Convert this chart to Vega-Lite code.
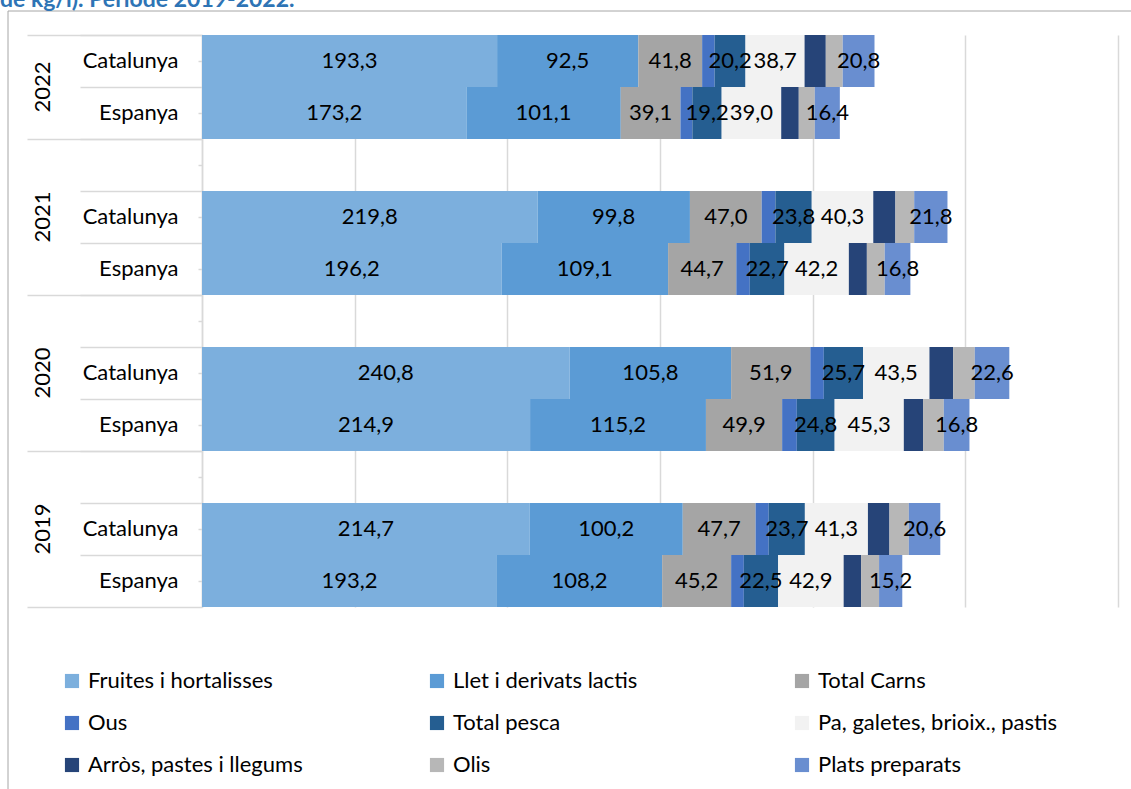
{
  "$schema": "https://vega.github.io/schema/vega-lite/v6.json",
  "width": 916,
  "height": 572,
  "autosize": {"type": "none"},
  "padding": {"left": 202, "top": 35, "right": 13, "bottom": 182},
  "background": "white",
  "config": {
    "font": "Lato",
    "locale": {"number": {"decimal": ",", "thousands": ".", "grouping": [3], "currency": ["", " €"]}},
    "view": {"stroke": null},
    "axis": {"labelFont": "Lato", "labelFontSize": 22, "labelColor": "#000000", "labelOverlap": false}
  },
  "title": {
    "text": "de kg/l). Període 2019-2022.",
    "anchor": "start",
    "frame": "group",
    "dx": -202,
    "offset": 4,
    "baseline": "alphabetic",
    "font": "Lato",
    "fontSize": 23,
    "fontWeight": "bold",
    "color": "#2E74B5"
  },
  "datasets": {
    "d": [
      {"r": "2022|Catalunya", "c": "Fruites i hortalisses", "v": 193.3},
      {"r": "2022|Catalunya", "c": "Llet i derivats lactis", "v": 92.5},
      {"r": "2022|Catalunya", "c": "Total Carns", "v": 41.8},
      {"r": "2022|Catalunya", "c": "Ous", "v": 8.2},
      {"r": "2022|Catalunya", "c": "Total pesca", "v": 20.2},
      {"r": "2022|Catalunya", "c": "Pa, galetes, brioix., pastis", "v": 38.7},
      {"r": "2022|Catalunya", "c": "Arròs, pastes i llegums", "v": 13.9},
      {"r": "2022|Catalunya", "c": "Olis", "v": 11.1},
      {"r": "2022|Catalunya", "c": "Plats preparats", "v": 20.8},
      {"r": "2022|Espanya", "c": "Fruites i hortalisses", "v": 173.2},
      {"r": "2022|Espanya", "c": "Llet i derivats lactis", "v": 101.1},
      {"r": "2022|Espanya", "c": "Total Carns", "v": 39.1},
      {"r": "2022|Espanya", "c": "Ous", "v": 7.8},
      {"r": "2022|Espanya", "c": "Total pesca", "v": 19.2},
      {"r": "2022|Espanya", "c": "Pa, galetes, brioix., pastis", "v": 39.0},
      {"r": "2022|Espanya", "c": "Arròs, pastes i llegums", "v": 11.5},
      {"r": "2022|Espanya", "c": "Olis", "v": 10.5},
      {"r": "2022|Espanya", "c": "Plats preparats", "v": 16.4},
      {"r": "2021|Catalunya", "c": "Fruites i hortalisses", "v": 219.8},
      {"r": "2021|Catalunya", "c": "Llet i derivats lactis", "v": 99.8},
      {"r": "2021|Catalunya", "c": "Total Carns", "v": 47.0},
      {"r": "2021|Catalunya", "c": "Ous", "v": 9.0},
      {"r": "2021|Catalunya", "c": "Total pesca", "v": 23.8},
      {"r": "2021|Catalunya", "c": "Pa, galetes, brioix., pastis", "v": 40.3},
      {"r": "2021|Catalunya", "c": "Arròs, pastes i llegums", "v": 14.5},
      {"r": "2021|Catalunya", "c": "Olis", "v": 12.3},
      {"r": "2021|Catalunya", "c": "Plats preparats", "v": 21.8},
      {"r": "2021|Espanya", "c": "Fruites i hortalisses", "v": 196.2},
      {"r": "2021|Espanya", "c": "Llet i derivats lactis", "v": 109.1},
      {"r": "2021|Espanya", "c": "Total Carns", "v": 44.7},
      {"r": "2021|Espanya", "c": "Ous", "v": 8.8},
      {"r": "2021|Espanya", "c": "Total pesca", "v": 22.7},
      {"r": "2021|Espanya", "c": "Pa, galetes, brioix., pastis", "v": 42.2},
      {"r": "2021|Espanya", "c": "Arròs, pastes i llegums", "v": 11.8},
      {"r": "2021|Espanya", "c": "Olis", "v": 11.7},
      {"r": "2021|Espanya", "c": "Plats preparats", "v": 16.8},
      {"r": "2020|Catalunya", "c": "Fruites i hortalisses", "v": 240.8},
      {"r": "2020|Catalunya", "c": "Llet i derivats lactis", "v": 105.8},
      {"r": "2020|Catalunya", "c": "Total Carns", "v": 51.9},
      {"r": "2020|Catalunya", "c": "Ous", "v": 8.8},
      {"r": "2020|Catalunya", "c": "Total pesca", "v": 25.7},
      {"r": "2020|Catalunya", "c": "Pa, galetes, brioix., pastis", "v": 43.5},
      {"r": "2020|Catalunya", "c": "Arròs, pastes i llegums", "v": 15.5},
      {"r": "2020|Catalunya", "c": "Olis", "v": 14.2},
      {"r": "2020|Catalunya", "c": "Plats preparats", "v": 22.6},
      {"r": "2020|Espanya", "c": "Fruites i hortalisses", "v": 214.9},
      {"r": "2020|Espanya", "c": "Llet i derivats lactis", "v": 115.2},
      {"r": "2020|Espanya", "c": "Total Carns", "v": 49.9},
      {"r": "2020|Espanya", "c": "Ous", "v": 9.6},
      {"r": "2020|Espanya", "c": "Total pesca", "v": 24.8},
      {"r": "2020|Espanya", "c": "Pa, galetes, brioix., pastis", "v": 45.3},
      {"r": "2020|Espanya", "c": "Arròs, pastes i llegums", "v": 12.6},
      {"r": "2020|Espanya", "c": "Olis", "v": 13.6},
      {"r": "2020|Espanya", "c": "Plats preparats", "v": 16.8},
      {"r": "2019|Catalunya", "c": "Fruites i hortalisses", "v": 214.7},
      {"r": "2019|Catalunya", "c": "Llet i derivats lactis", "v": 100.2},
      {"r": "2019|Catalunya", "c": "Total Carns", "v": 47.7},
      {"r": "2019|Catalunya", "c": "Ous", "v": 8.6},
      {"r": "2019|Catalunya", "c": "Total pesca", "v": 23.7},
      {"r": "2019|Catalunya", "c": "Pa, galetes, brioix., pastis", "v": 41.3},
      {"r": "2019|Catalunya", "c": "Arròs, pastes i llegums", "v": 14.1},
      {"r": "2019|Catalunya", "c": "Olis", "v": 12.7},
      {"r": "2019|Catalunya", "c": "Plats preparats", "v": 20.6},
      {"r": "2019|Espanya", "c": "Fruites i hortalisses", "v": 193.2},
      {"r": "2019|Espanya", "c": "Llet i derivats lactis", "v": 108.2},
      {"r": "2019|Espanya", "c": "Total Carns", "v": 45.2},
      {"r": "2019|Espanya", "c": "Ous", "v": 8.3},
      {"r": "2019|Espanya", "c": "Total pesca", "v": 22.5},
      {"r": "2019|Espanya", "c": "Pa, galetes, brioix., pastis", "v": 42.9},
      {"r": "2019|Espanya", "c": "Arròs, pastes i llegums", "v": 11.4},
      {"r": "2019|Espanya", "c": "Olis", "v": 11.8},
      {"r": "2019|Espanya", "c": "Plats preparats", "v": 15.2}
    ]
  },
  "data": {"name": "d"},
  "transform": [
    {"calculate": "indexof(['Fruites i hortalisses','Llet i derivats lactis','Total Carns','Ous','Total pesca','Pa, galetes, brioix., pastis','Arròs, pastes i llegums','Olis','Plats preparats'], datum.c)", "as": "k"}
  ],
  "layer": [
    {
      "mark": {"type": "bar"},
      "encoding": {
        "y": {
          "field": "r", "type": "nominal",
          "scale": {"domain": ["2022|Catalunya","2022|Espanya","2021|","2021|Catalunya","2021|Espanya","2020|","2020|Catalunya","2020|Espanya","2019|","2019|Catalunya","2019|Espanya"], "paddingInner": 0, "paddingOuter": 0},
          "axis": {"title": null, "orient": "left", "labelExpr": "split(datum.value,'|')[1]", "tickSize": 4, "tickColor": "#D9D9D9", "tickWidth": 1.5, "domainColor": "#D9D9D9", "domainWidth": 1.5, "labelPadding": 20}
        },
        "x": {
          "field": "v", "type": "quantitative", "stack": "zero",
          "scale": {"domain": [0, 600], "nice": false},
          "axis": {"title": null, "orient": "bottom", "labels": false, "ticks": false, "domain": false, "grid": true, "gridColor": "#D9D9D9", "gridWidth": 1.5, "values": [0, 100, 200, 300, 400, 500, 600]}
        },
        "color": {
          "field": "c", "type": "nominal",
          "sort": ["Fruites i hortalisses","Llet i derivats lactis","Total Carns","Ous","Total pesca","Pa, galetes, brioix., pastis","Arròs, pastes i llegums","Olis","Plats preparats"],
          "scale": {
            "domain": ["Fruites i hortalisses","Llet i derivats lactis","Total Carns","Ous","Total pesca","Pa, galetes, brioix., pastis","Arròs, pastes i llegums","Olis","Plats preparats"],
            "range": ["#7CAFDD","#5B9BD5","#A5A5A5","#4472C4","#255E91","#F2F2F2","#264478","#B7B7B7","#698ED0"]
          },
          "legend": {
            "orient": "none", "legendX": -141, "legendY": 635, "columns": 3, "direction": "horizontal",
            "title": null, "symbolType": "square", "symbolSize": 200, "symbolStrokeWidth": 0,
            "labelFont": "Lato", "labelFontSize": 22, "labelColor": "#000000", "labelOffset": 5,
            "gridAlign": "all", "columnPadding": 98, "rowPadding": 20, "labelLimit": 400
          }
        },
        "order": {"field": "k", "type": "quantitative"}
      }
    },
    {
      "mark": {"type": "text", "font": "Lato", "fontSize": 22, "color": "#000000"},
      "encoding": {
        "y": {
          "field": "r", "type": "nominal",
          "scale": {"domain": ["2022|Catalunya","2022|Espanya","2021|","2021|Catalunya","2021|Espanya","2020|","2020|Catalunya","2020|Espanya","2019|","2019|Catalunya","2019|Espanya"]},
          "axis": null
        },
        "x": {"field": "v", "type": "quantitative", "stack": "zero", "bandPosition": 0.5, "axis": null},
        "detail": {"field": "c", "type": "nominal"},
        "order": {"field": "k", "type": "quantitative"},
        "text": {
          "condition": {"test": "datum.c === 'Ous' || datum.c === 'Olis' || datum.c === 'Arròs, pastes i llegums'", "value": ""},
          "field": "v", "type": "quantitative", "format": ".1f"
        }
      }
    },
    {
      "mark": {"type": "point", "opacity": 0},
      "encoding": {
        "y": {
          "field": "r", "type": "nominal",
          "scale": {"domain": ["2022|Catalunya","2022|Espanya","2021|","2021|Catalunya","2021|Espanya","2020|","2020|Catalunya","2020|Espanya","2019|","2019|Catalunya","2019|Espanya"]},
          "axis": {"title": null, "orient": "left", "bandPosition": 0, "tickSize": 122, "tickColor": "#D9D9D9", "tickWidth": 1.5, "labels": false, "domain": false}
        }
      }
    },
    {
      "mark": {"type": "point", "opacity": 0},
      "encoding": {
        "y": {
          "field": "r", "type": "nominal",
          "scale": {"domain": ["2022|Catalunya","2022|Espanya","2021|","2021|Catalunya","2021|Espanya","2020|","2020|Catalunya","2020|Espanya","2019|","2019|Catalunya","2019|Espanya"]},
          "axis": {"title": null, "orient": "left", "bandPosition": 1, "tickSize": 175, "tickColor": "#D9D9D9", "tickWidth": 1.5, "tickOpacity": {"condition": {"test": "indexof(datum.value, 'Espanya') >= 0", "value": 1}, "value": 0}, "labels": false, "domain": false}
        }
      }
    },
    {
      "mark": {"type": "point", "opacity": 0},
      "encoding": {
        "y": {
          "field": "r", "type": "nominal",
          "scale": {"domain": ["2022|Catalunya","2022|Espanya","2021|","2021|Catalunya","2021|Espanya","2020|","2020|Catalunya","2020|Espanya","2019|","2019|Catalunya","2019|Espanya"]},
          "axis": {"title": null, "orient": "left", "bandPosition": 0, "tickSize": 175, "tickColor": "#D9D9D9", "tickWidth": 1.5, "tickOpacity": {"condition": {"test": "datum.value === '2022|Catalunya'", "value": 1}, "value": 0}, "labels": false, "domain": false}
        }
      }
    },
    {
      "mark": {"type": "point", "opacity": 0},
      "encoding": {
        "y": {
          "field": "r", "type": "nominal",
          "scale": {"domain": ["2022|Catalunya","2022|Espanya","2021|","2021|Catalunya","2021|Espanya","2020|","2020|Catalunya","2020|Espanya","2019|","2019|Catalunya","2019|Espanya"]},
          "axis": {"title": null, "orient": "left", "ticks": false, "domain": false, "labelExpr": "datum.value === '2022|Espanya' ? '2022' : ''", "labelOffset": -26, "labelAngle": 270, "labelAlign": "center", "labelBaseline": "alphabetic", "labelPadding": 153}
        }
      }
    },
    {
      "mark": {"type": "point", "opacity": 0},
      "encoding": {
        "y": {
          "field": "r", "type": "nominal",
          "scale": {"domain": ["2022|Catalunya","2022|Espanya","2021|","2021|Catalunya","2021|Espanya","2020|","2020|Catalunya","2020|Espanya","2019|","2019|Catalunya","2019|Espanya"]},
          "axis": {"title": null, "orient": "left", "ticks": false, "domain": false, "labelExpr": "(split(datum.value,'|')[1] === 'Catalunya' && split(datum.value,'|')[0] !== '2022') ? split(datum.value,'|')[0] : ''", "labelAngle": 270, "labelAlign": "center", "labelBaseline": "alphabetic", "labelPadding": 153}
        }
      }
    },
    {
      "mark": {"type": "point", "opacity": 0},
      "encoding": {
        "y": {
          "field": "r", "type": "nominal",
          "scale": {"domain": ["2022|Catalunya","2022|Espanya","2021|","2021|Catalunya","2021|Espanya","2020|","2020|Catalunya","2020|Espanya","2019|","2019|Catalunya","2019|Espanya"]},
          "axis": {"title": null, "orient": "left", "bandPosition": 0, "offset": 170, "translate": -24, "tickSize": -1130, "tickColor": "#A6A6A6", "tickWidth": 1, "tickOpacity": {"condition": {"test": "datum.value === '2022|Catalunya'", "value": 1}, "value": 0}, "labels": false, "domain": false}
        }
      }
    },
    {
      "mark": {"type": "point", "opacity": 0},
      "encoding": {
        "x": {
          "field": "v", "type": "quantitative",
          "scale": {"domain": [0, 600], "nice": false},
          "axis": {"title": null, "orient": "bottom", "offset": 376, "translate": -194, "values": [0], "tickSize": -778, "tickColor": "#A6A6A6", "tickWidth": 1, "labels": false, "domain": false, "grid": false}
        }
      }
    }
  ],
  "resolve": {"axis": {"y": "independent", "x": "independent"}}
}
